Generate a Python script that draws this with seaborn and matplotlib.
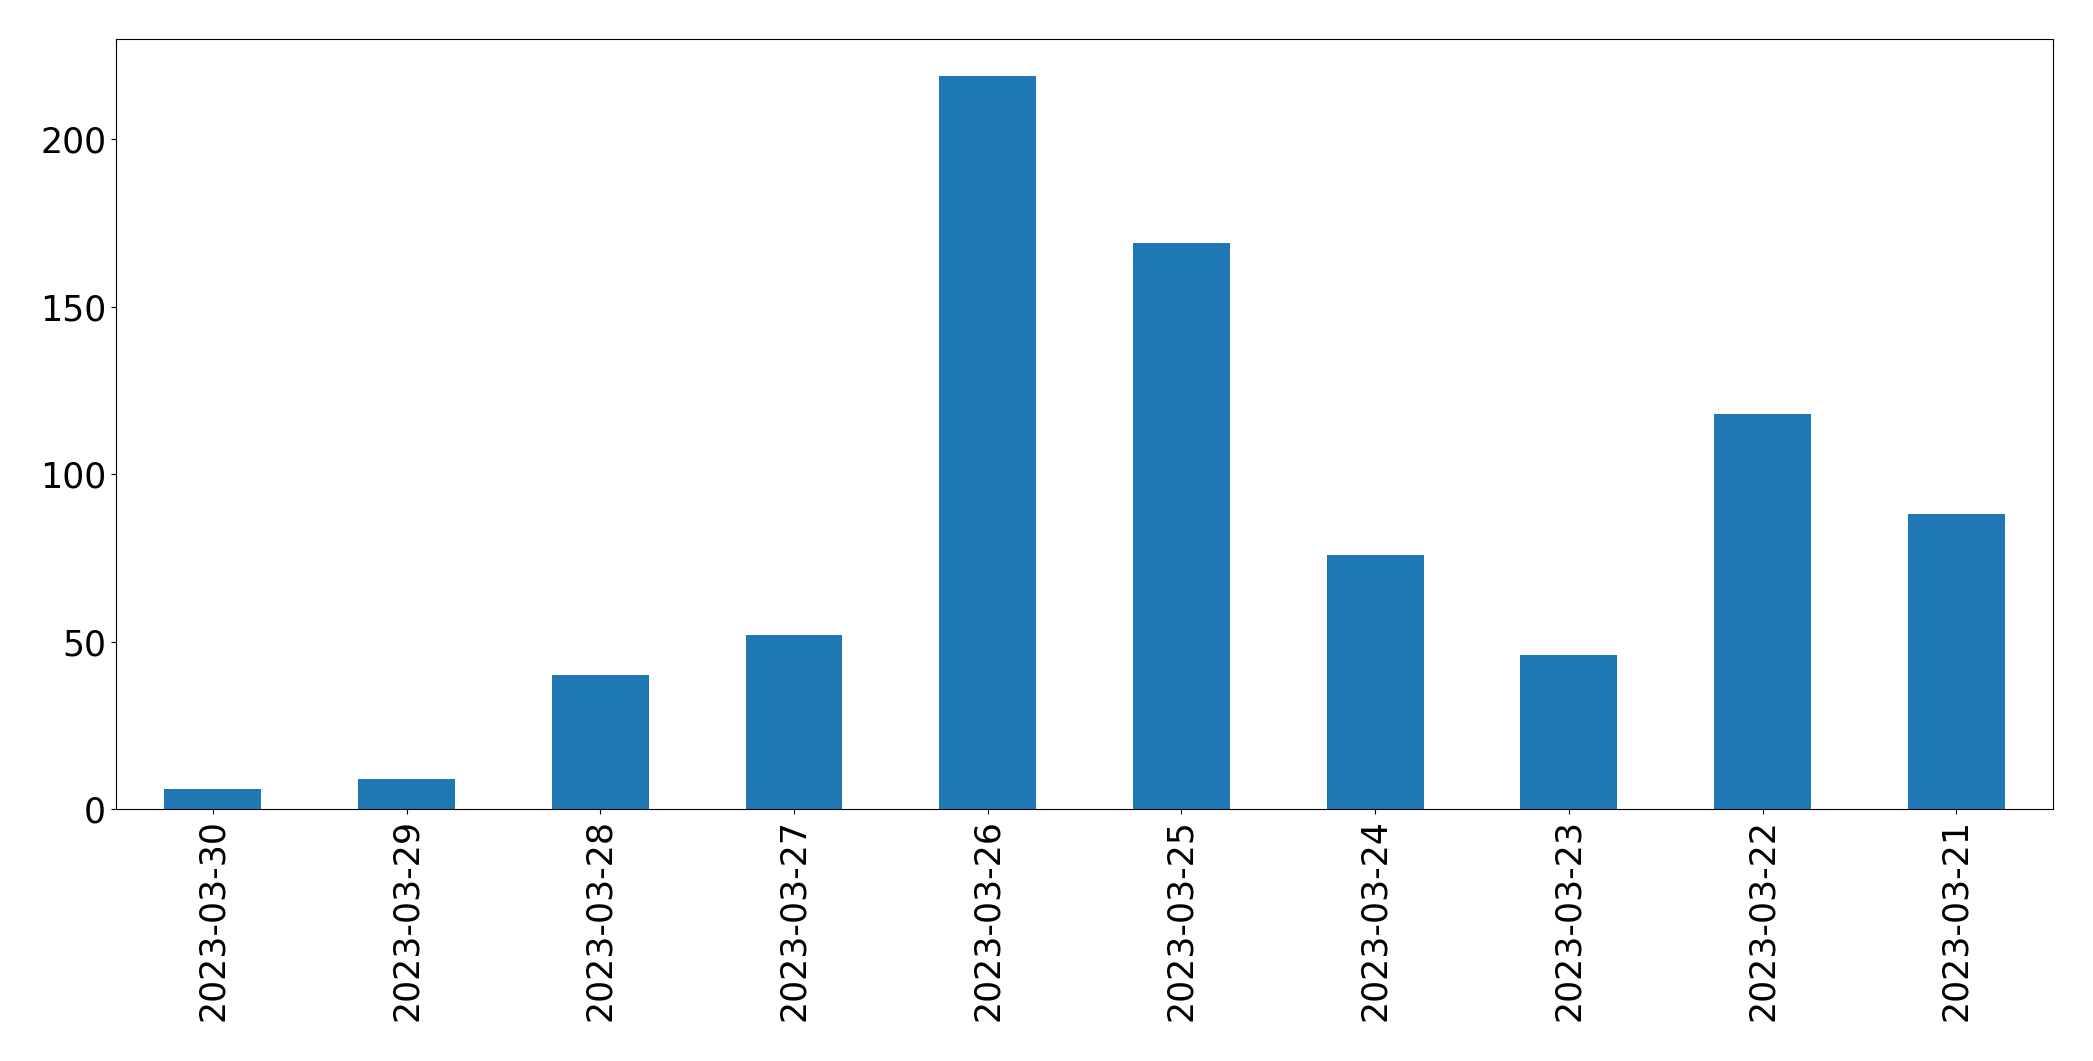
#!/usr/bin/env python3

import matplotlib
matplotlib.use('Agg')
import matplotlib.pyplot as plt
import pandas as pd
import seaborn as sns

# daily counts, newest first as in the original
dates = ['2023-03-30', '2023-03-29', '2023-03-28', '2023-03-27', '2023-03-26',
         '2023-03-25', '2023-03-24', '2023-03-23', '2023-03-22', '2023-03-21']
counts = [6, 9, 40, 52, 219, 169, 76, 46, 118, 88]

def main():
    df = pd.DataFrame({'date': dates, 'count': counts})

    fig, ax = plt.subplots(figsize=(20.93, 10.61), dpi=100)
    sns.barplot(data=df, x='date', y='count', order=dates, color='#1f77b4',
                saturation=1, width=0.5, linewidth=0, ax=ax)

    ax.set_xlim(-0.5, len(dates) - 0.5)
    ax.margins(y=0.05)
    ax.set_xlabel('')
    ax.set_ylabel('')
    ax.tick_params(axis='both', labelsize=25)
    ax.tick_params(axis='x', labelrotation=90)

    plt.subplots_adjust(left=0.0554, right=0.981, top=0.9632, bottom=0.2375)
    plt.savefig('out.png', dpi=100)

if __name__ == "__main__":
    main()
